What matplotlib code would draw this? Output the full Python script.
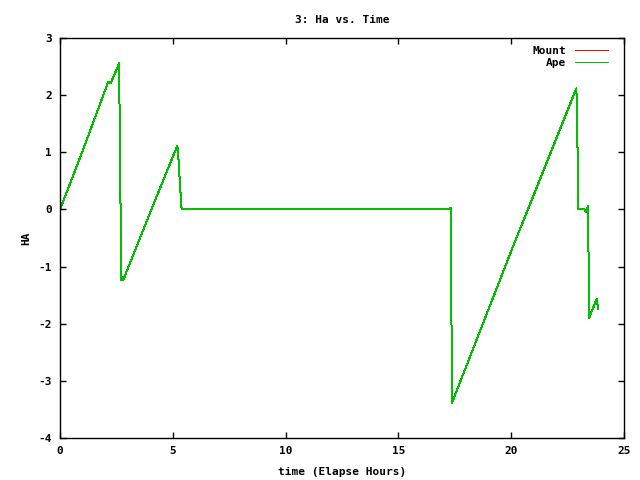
import matplotlib
matplotlib.use('Agg')
import matplotlib.pyplot as plt

plt.rcParams['axes.unicode_minus'] = False

# elapsed hours and hour angle
hours = [0.0, 0.1, 1.0, 2.14, 2.25, 2.63, 2.64, 2.66, 2.70, 2.71, 2.75, 2.80,
         2.84, 4.0, 5.2, 5.25, 5.3, 5.35, 5.39, 17.30, 17.31, 17.35,
         17.37, 20.0, 22.89, 22.92, 22.96, 22.97, 23.24, 23.32, 23.40, 23.42,
         23.44, 23.46, 23.50, 23.79, 23.86]
ha = [0.0, 0.10, 1.02, 2.235, 2.21, 2.56, 1.60, 0.60, -0.30, -1.24, -1.18, -1.24,
      -1.20, -0.05, 1.115, 0.90, 0.55, 0.25, 0.0, 0.0, 0.03, -1.69,
      -3.39, -0.73, 2.12, 1.58, 0.53, 0.0, 0.0, -0.04, 0.06, -0.42,
      -1.41, -1.90, -1.85, -1.57, -1.74]

mount_hours = hours
mount_ha = ha

font = {'family': 'DejaVu Sans Mono', 'weight': 'bold', 'size': 8}

fig = plt.figure(figsize=(6.4, 4.8), dpi=100)
ax = fig.add_axes([60 / 640, 1 - 438 / 480, 564 / 640, 400 / 480])

ax.plot(mount_hours, mount_ha, color='#ff0000', lw=0.72, label='Mount',
        antialiased=False)
ax.plot(hours, ha, color='#00c000', lw=0.72, label='Ape', antialiased=False)

ax.set_xlim(0, 25)
ax.set_ylim(-4, 3)
ax.set_xticks(range(0, 26, 5))
ax.set_yticks(range(-4, 4))
ax.tick_params(direction='in', length=4, width=1, top=True, right=True,
               labelsize=8, pad=6)
for lab in ax.get_xticklabels() + ax.get_yticklabels():
    lab.set_fontfamily('DejaVu Sans Mono')
    lab.set_fontweight('bold')
for s in ax.spines.values():
    s.set_linewidth(1)

ax.set_title('3: Ha vs. Time', fontdict=font, pad=11)
ax.set_xlabel('time (Elapse Hours)', fontdict=font, labelpad=8)
ax.set_ylabel('HA', fontdict=font, rotation=90, labelpad=5)

leg = ax.legend(loc='upper right', bbox_to_anchor=(1 - 8 / 564, 1),
                frameon=False, markerfirst=False, prop=font,
                handlelength=3.0, handletextpad=0.8,
                labelspacing=0.2, borderaxespad=0.3)
for t in leg.get_texts():
    t.set_ha('right')

fig.savefig('out.png', dpi=100)
